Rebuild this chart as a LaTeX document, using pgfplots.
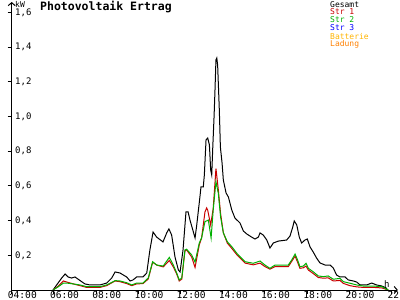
\documentclass[border=0pt]{standalone}
\usepackage{pgfplots}
\pgfplotsset{compat=1.18}
\usepackage{fontspec}
\setmainfont{DejaVu Sans Mono}
\usetikzlibrary{arrows.meta}
\definecolor{cGes}{RGB}{0,0,0}
\definecolor{cStrA}{RGB}{200,0,0}
\definecolor{cStrB}{RGB}{0,176,0}
\definecolor{cStrC}{RGB}{0,0,255}
\definecolor{cBat}{RGB}{255,180,0}
\definecolor{cLad}{RGB}{255,128,0}
\begin{document}
\begin{tikzpicture}[x=1bp,y=1bp]
\useasboundingbox (0,0) rectangle (400bp,300bp);
\begin{axis}[
  at={(11.7bp,10bp)}, anchor=south west,
  scale only axis, width=386.13bp, height=288bp,
  xmin=4, xmax=22.3, ymin=0, ymax=1.66,
  axis lines=left,
  axis line style={line width=1bp, -{Straight Barb[length=3bp,width=7bp]}},
  tick align=outside, major tick length=4bp,
  tick style={line width=1bp, black},
  xtick={4,6,8,10,12,14,16,18,20,22},
  xticklabels={04:00,06:00,08:00,10:00,12:00,14:00,16:00,18:00,20:00,22:00},
  ytick={0.2,0.4,0.6,0.8,1.0,1.2,1.4,1.6},
  yticklabels={{0,2},{0,4},{0,6},{0,8},{1,0},{1,2},{1,4},{1,6}},
  xticklabel style={anchor=north west, inner sep=0pt, xshift=-4bp, yshift=2.6bp, font=\fontsize{9.6bp}{9.6bp}\selectfont},
  yticklabel style={anchor=west, inner sep=0pt, xshift=7.3bp, font=\fontsize{9bp}{9bp}\selectfont},
  /pgf/number format/assume math mode=true,
  every axis plot/.append style={line width=1bp, no markers, sharp plot},
]
% Gesamt
\addplot[cGes] coordinates {
(5.96,0) (6.13,0.029) (6.37,0.069) (6.53,0.092) (6.67,0.075) (6.84,0.069) (7.00,0.075)
(7.14,0.063) (7.47,0.035) (7.71,0.029) (8.18,0.029) (8.50,0.040) (8.74,0.069) (8.90,0.104)
(9.13,0.098) (9.45,0.075) (9.61,0.052) (9.75,0.058) (9.92,0.075) (10.22,0.075) (10.40,0.098)
(10.55,0.231) (10.70,0.334) (10.87,0.305) (11.17,0.277) (11.35,0.330) (11.45,0.352)
(11.58,0.317) (11.74,0.190) (11.90,0.115) (11.98,0.104) (12.12,0.231) (12.26,0.450)
(12.36,0.450) (12.45,0.403) (12.69,0.300) (12.77,0.375) (12.92,0.536) (12.97,0.594)
(13.08,0.594) (13.13,0.663) (13.21,0.865) (13.29,0.876) (13.37,0.836) (13.43,0.692)
(13.48,0.663) (13.53,0.824) (13.59,0.997) (13.63,1.135) (13.68,1.326) (13.72,1.337)
(13.76,1.297) (13.81,1.135) (13.84,1.037) (13.89,0.824) (13.97,0.732) (14.03,0.634)
(14.16,0.559) (14.27,0.536) (14.43,0.461) (14.58,0.415) (14.82,0.386) (14.98,0.340)
(15.14,0.323) (15.37,0.305) (15.53,0.294) (15.69,0.305) (15.77,0.329) (15.92,0.317)
(16.09,0.288) (16.24,0.242) (16.40,0.271) (16.64,0.282) (17.03,0.288) (17.19,0.311)
(17.32,0.363) (17.39,0.398) (17.51,0.375) (17.63,0.305) (17.74,0.271) (17.90,0.288)
(18.01,0.294) (18.14,0.248) (18.29,0.219) (18.45,0.184) (18.61,0.156) (18.85,0.144)
(19.09,0.144) (19.24,0.127) (19.40,0.086) (19.56,0.075) (19.80,0.075) (19.95,0.058)
(20.19,0.052) (20.35,0.046) (20.51,0.029) (20.82,0.029) (21.06,0.040) (21.30,0.029)
(21.54,0.023) (21.74,0.012) (21.83,0)
};
% Str 1
\addplot[cStrA] coordinates {
(5.96,0) (6.21,0.023) (6.45,0.052) (6.61,0.046) (6.92,0.035) (7.24,0.025) (7.55,0.015)
(8.18,0.015) (8.50,0.025) (8.90,0.052) (9.13,0.048) (9.45,0.037) (9.69,0.025) (9.92,0.035)
(10.22,0.037) (10.47,0.063) (10.68,0.160) (10.87,0.144) (11.18,0.133) (11.47,0.170)
(11.66,0.133) (11.82,0.092) (11.94,0.052) (12.06,0.063) (12.21,0.225) (12.29,0.231)
(12.53,0.190) (12.69,0.130) (12.89,0.260) (13.00,0.300) (13.16,0.450) (13.24,0.473)
(13.29,0.460) (13.43,0.375) (13.55,0.470) (13.68,0.700) (13.79,0.580) (13.90,0.440)
(14.03,0.330) (14.22,0.270) (14.43,0.240) (14.66,0.205) (14.82,0.185) (15.06,0.155)
(15.45,0.145) (15.77,0.155) (16.00,0.135) (16.24,0.120) (16.48,0.135) (17.11,0.135)
(17.27,0.165) (17.43,0.195) (17.55,0.160) (17.66,0.125) (17.82,0.128) (17.95,0.138)
(18.06,0.115) (18.29,0.095) (18.53,0.072) (18.77,0.068) (19.00,0.070) (19.24,0.052)
(19.56,0.055) (19.72,0.038) (20.03,0.025) (20.35,0.018) (20.66,0.015) (21.14,0.015)
(21.54,0.012) (21.85,0)
};
% Str 2
\addplot[cStrB] coordinates {
(5.96,0) (6.21,0.019) (6.45,0.040) (6.61,0.040) (6.92,0.035) (7.24,0.029) (7.55,0.019)
(8.18,0.019) (8.50,0.029) (8.90,0.054) (9.13,0.052) (9.45,0.042) (9.69,0.029) (9.92,0.040)
(10.22,0.040) (10.47,0.069) (10.68,0.163) (10.87,0.144) (11.18,0.138) (11.47,0.188)
(11.66,0.144) (11.82,0.098) (11.94,0.058) (12.06,0.069) (12.21,0.231) (12.29,0.235)
(12.53,0.202) (12.69,0.161) (12.89,0.271) (13.00,0.300) (13.16,0.394) (13.32,0.403)
(13.45,0.300) (13.55,0.461) (13.68,0.624) (13.79,0.559) (13.90,0.422) (14.03,0.329)
(14.22,0.278) (14.43,0.250) (14.66,0.213) (14.82,0.192) (15.06,0.163) (15.45,0.154)
(15.77,0.167) (16.00,0.144) (16.24,0.125) (16.48,0.144) (17.11,0.144) (17.27,0.173)
(17.43,0.207) (17.55,0.173) (17.66,0.134) (17.82,0.138) (17.95,0.154) (18.06,0.125)
(18.29,0.105) (18.53,0.081) (18.77,0.077) (19.00,0.081) (19.24,0.062) (19.56,0.067)
(19.72,0.048) (20.03,0.039) (20.35,0.029) (20.66,0.023) (21.14,0.023) (21.54,0.019)
(21.85,0)
};
% Str 3
\addplot[cStrC] coordinates {(5.96,0) (21.85,0)};
% Batterie
\addplot[cBat] coordinates {(5.72,0) (21.83,0)};
% Ladung
\addplot[cLad] coordinates {(5.72,0) (21.83,0)};
\end{axis}
\node[anchor=base west, inner sep=0pt, font=\fontsize{11.5bp}{11.5bp}\selectfont\bfseries] at (40bp,289bp) {Photovoltaik Ertrag};
\node[anchor=base west, inner sep=0pt, font=\fontsize{8bp}{8bp}\selectfont] at (15bp,292bp) {kW};
\node[anchor=base west, inner sep=0pt, font=\fontsize{9bp}{9bp}\selectfont] at (384bp,13bp) {h};
\begin{scope}[every node/.style={anchor=base west, inner sep=0pt, font=\fontsize{8bp}{8bp}\selectfont}]
\node[text=cGes] at (330bp,292.7bp) {Gesamt};
\node[text=cStrA] at (330bp,285bp) {Str 1};
\node[text=cStrB] at (330bp,277bp) {Str 2};
\node[text=cStrC] at (330bp,269bp) {Str 3};
\node[text=cBat] at (330bp,260.7bp) {Batterie};
\node[text=cLad] at (330bp,253bp) {Ladung};
\end{scope}
\end{tikzpicture}
\end{document}
